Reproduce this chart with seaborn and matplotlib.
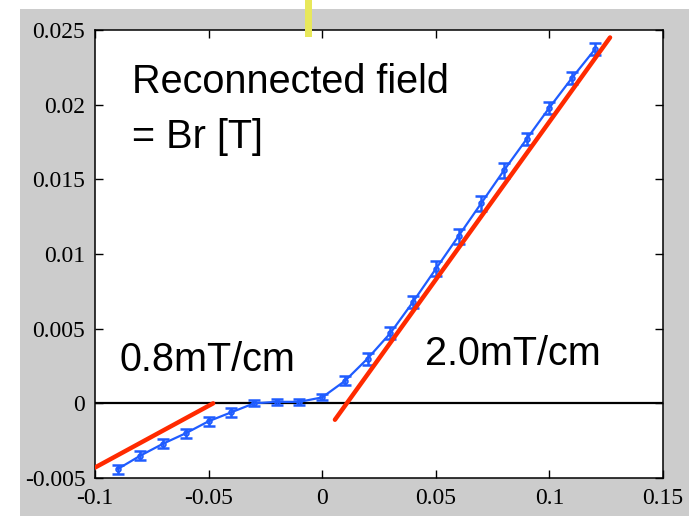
import matplotlib
matplotlib.use("Agg")
import matplotlib.pyplot as plt
from matplotlib.patches import Rectangle
import numpy as np
import pandas as pd
import seaborn as sns

pos = [-0.09, -0.08, -0.07, -0.06, -0.05, -0.04, -0.03, -0.02, -0.01, 0.0, 0.01,
       0.02, 0.03, 0.04, 0.05, 0.06, 0.07, 0.08, 0.09, 0.10, 0.11, 0.12]
br = [-0.0044, -0.0035, -0.0027, -0.0020, -0.0012, -0.0006, 0.0000, 0.0001, 0.0001, 0.0004, 0.0015,
      0.0030, 0.0047, 0.0068, 0.0090, 0.0112, 0.0134, 0.0156, 0.0177, 0.0198, 0.0218, 0.0237]
br_err = [0.0003, 0.0003, 0.0003, 0.0003, 0.0003, 0.0003, 0.0002, 0.0002, 0.0002, 0.0002, 0.0003,
          0.0004, 0.0004, 0.0004, 0.0005, 0.0005, 0.0005, 0.0005, 0.0004, 0.0004, 0.0004, 0.0004]

# linear fits drawn by hand in the original
fit1_x = [-0.1, -0.048]
fit1_y = [-0.0043, 0.0]
fit2_x = [0.0056, 0.1267]
fit2_y = [-0.0011, 0.0245]

xticks = [-0.1, -0.05, 0, 0.05, 0.1, 0.15]
xtick_labels = ["-0.1", "-0.05", "0", "0.05", "0.1", "0.15"]
yticks = [-0.005, 0, 0.005, 0.01, 0.015, 0.02, 0.025]
ytick_labels = ["-0.005", "0", "0.005", "0.01", "0.015", "0.02", "0.025"]

sns.set_style("ticks")
plt.rcParams['font.family'] = ['Liberation Sans', 'DejaVu Sans']
plt.rcParams['axes.unicode_minus'] = False
plt.rcParams['text.color'] = 'black'

df = pd.DataFrame({"x": pos, "Br": br, "err": br_err})
blue = "#1f5cff"
red = "#ff2a00"

fig = plt.figure(figsize=(6.89, 5.16), dpi=100)
fig.patch.set_facecolor("white")
# gray slide background
fig.patches.append(Rectangle((20 / 689, 0), 1, (516 - 9) / 516, transform=fig.transFigure,
                             facecolor="#cccccc", edgecolor="none", zorder=-10))

ax = fig.add_axes([95 / 689, 38 / 516, 568 / 689, 448 / 516])
ax.set_facecolor("white")

ax.axhline(0, color="black", lw=1.6, zorder=1)

sns.lineplot(x=fit1_x, y=fit1_y, ax=ax, color=red, lw=3.2, zorder=4)
sns.lineplot(x=fit2_x, y=fit2_y, ax=ax, color=red, lw=3.2, zorder=4)

ax.errorbar(df["x"], df["Br"], yerr=df["err"], fmt="none", ecolor=blue,
            elinewidth=1.8, capsize=4, capthick=1.8, zorder=3)
sns.lineplot(data=df, x="x", y="Br", ax=ax, color=blue, lw=1.6, marker="o",
             markersize=3.5, markerfacecolor="none", markeredgecolor=blue,
             markeredgewidth=1.2, zorder=3)

ax.set_xlim(-0.1, 0.15)
ax.set_ylim(-0.005, 0.025)
ax.set_xticks(xticks)
ax.set_xticklabels(xtick_labels)
ax.set_yticks(yticks)
ax.set_yticklabels(ytick_labels)
ax.set_xlabel("")
ax.set_ylabel("")
ax.tick_params(direction="in", length=6, width=1, top=True, right=True, pad=7,
               labelsize=17, colors="black")
for lab in ax.get_xticklabels() + ax.get_yticklabels():
    lab.set_fontfamily(["Liberation Serif", "DejaVu Serif"])
for sp in ax.spines.values():
    sp.set_visible(True)
    sp.set_linewidth(1.1)
    sp.set_color("black")

fs = 28.5
ax.text(-0.0837, 0.02078, "Reconnected field", fontsize=fs, va="baseline", ha="left", color="black")
ax.text(-0.0837, 0.01710, "= Br [T]", fontsize=fs, va="baseline", ha="left", color="black")
ax.text(-0.089, 0.00217, "0.8mT/cm", fontsize=fs, va="baseline", ha="left", color="black")
ax.text(0.0452, 0.00257, "2.0mT/cm", fontsize=fs, va="baseline", ha="left", color="black")

# yellow marker bar at the top of the slide
fig.patches.append(Rectangle((305 / 689, (516 - 37) / 516), 7 / 689, 37 / 516,
                             transform=fig.transFigure, facecolor="#e8e85a",
                             edgecolor="none", zorder=10))

fig.savefig("out.png", dpi=100)
